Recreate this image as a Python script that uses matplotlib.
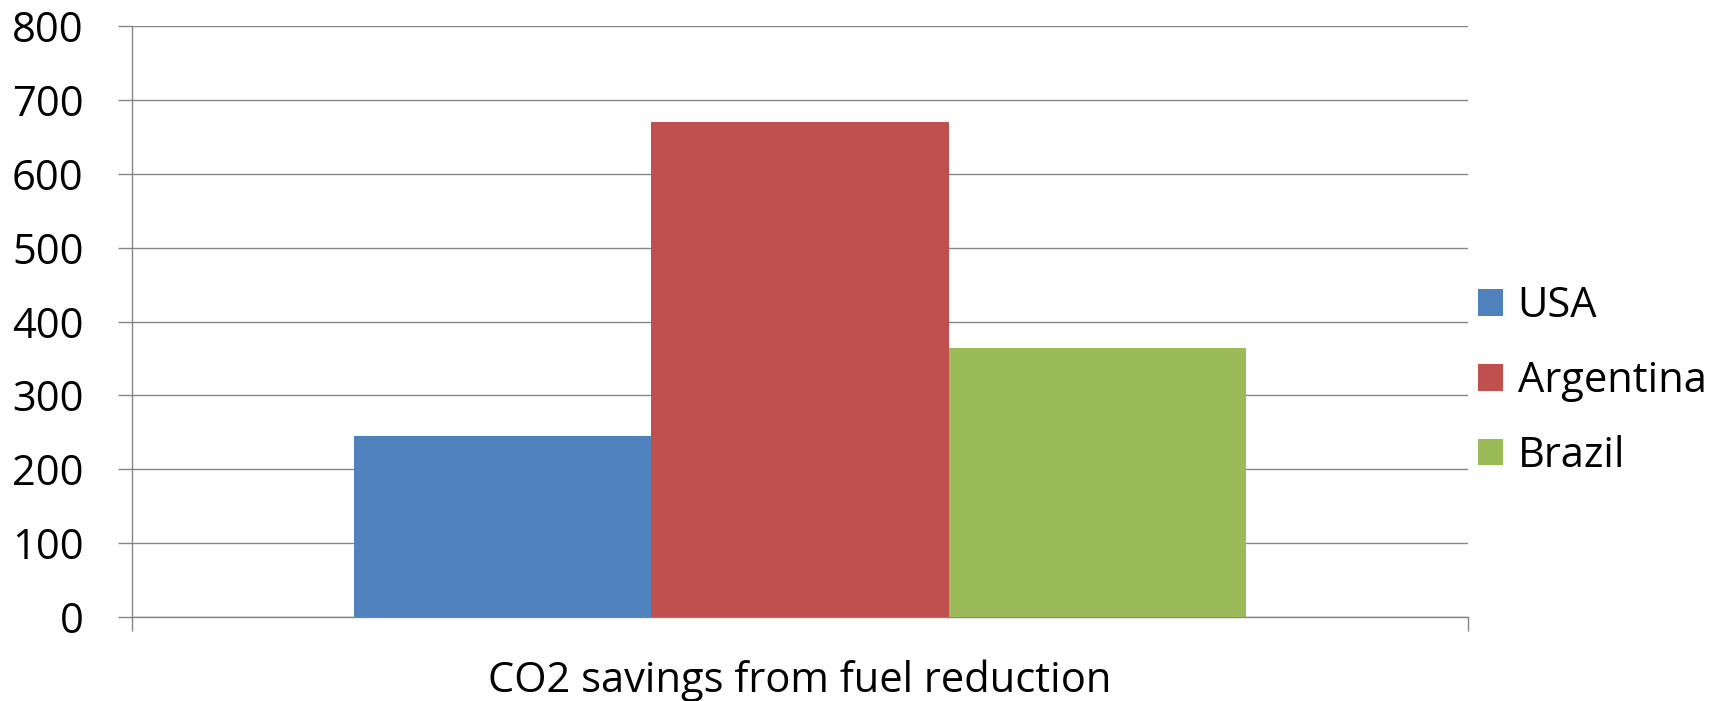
import matplotlib
matplotlib.use("Agg")
import matplotlib.pyplot as plt
import numpy as np

plt.rcParams["font.family"] = ["Open Sans", "DejaVu Sans"]

category = "CO2 savings from fuel reduction"
countries = ["USA", "Argentina", "Brazil"]
savings = [245, 670, 364]
colors = ["#4f81bd", "#c0504d", "#9bbb59"]
yticks = [0, 100, 200, 300, 400, 500, 600, 700, 800]

grid_grey = "#868686"

fig = plt.figure(figsize=(17.2, 7.01), dpi=100)
ax = fig.add_axes([132 / 1720, 1 - 617 / 701, (1468 - 132) / 1720, (617 - 26) / 701])

bar_w = 0.667 / len(countries)
offsets = (np.arange(len(countries)) - (len(countries) - 1) / 2) * bar_w
for off, val, col, name in zip(offsets, savings, colors, countries):
    ax.bar(off, val, width=bar_w, color=col, label=name, zorder=3)

ax.set_xlim(-0.5, 0.5)
ax.set_ylim(0, 800)
ax.set_yticks(yticks)
ax.set_xticks([-0.5, 0.5])
ax.set_xticklabels(["", ""])
ax.tick_params(axis="y", direction="out", length=10, width=1.0, color=grid_grey,
               labelsize=30, pad=25)
ax.tick_params(axis="x", direction="out", length=10, width=1.0, color=grid_grey)
ax.grid(axis="y", color=grid_grey, linewidth=1.0, zorder=0)
for side in ("top", "right"):
    ax.spines[side].set_visible(False)
for side in ("left", "bottom"):
    ax.spines[side].set_color(grid_grey)
    ax.spines[side].set_linewidth(1.0)

ax.set_xlabel(category, fontsize=30, labelpad=17)

fig.legend(loc="center left", bbox_to_anchor=(1478 / 1720, 1 - 381 / 701),
           frameon=False, fontsize=30, handlelength=0.6, handleheight=0.6,
           handletextpad=0.35, labelspacing=0.79, borderpad=0, borderaxespad=0)

fig.savefig("out.png", dpi=100)
